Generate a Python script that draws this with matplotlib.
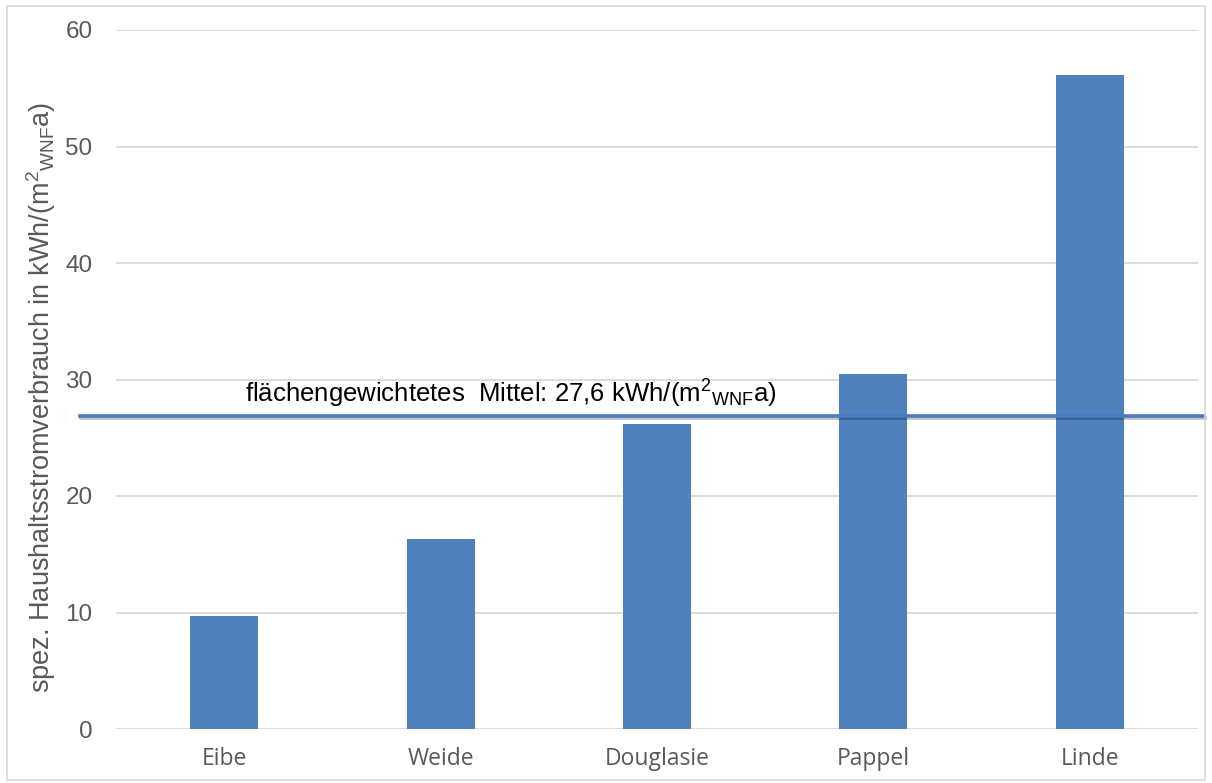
"""
Haushaltsstromverbrauch je Haus, mit flächengewichtetem Mittel
"""
import matplotlib
import matplotlib.pyplot as plt
import matplotlib.patheffects as pe
from matplotlib.patches import Rectangle

matplotlib.use("Agg")

# Data
houses = ["Eibe", "Weide", "Douglasie", "Pappel", "Linde"]
consumption = [9.7, 16.3, 26.2, 30.5, 56.1]
mean_line = [26.9]
mean_label = "flächengewichtetes  Mittel: 27,6 kWh/(m$^2$$_{\\mathregular{WNF}}$a)"
y_ticks = [0, 10, 20, 30, 40, 50, 60]

BAR_COLOR = "#4F81BD"
LINE_COLOR = "#4A7CC4"
GRID_COLOR = "#D9D9D9"
TEXT_GRAY = "#595959"


def main():
    plt.rcParams["mathtext.fontset"] = "custom"
    plt.rcParams["mathtext.rm"] = "Liberation Sans"
    plt.rcParams["mathtext.it"] = "Liberation Sans"
    plt.rcParams["mathtext.default"] = "regular"

    fig = plt.figure(figsize=(12.12, 7.83), dpi=100)
    ax = fig.add_axes([116 / 1212, 1 - 729 / 783, 1082 / 1212, 699 / 783])

    x = range(len(houses))
    ax.bar(x, consumption, width=0.315, color=BAR_COLOR, zorder=2)

    ax.set_xlim(-0.5, len(houses) - 0.5)
    ax.set_ylim(0, 60)
    ax.set_yticks(y_ticks)
    ax.set_yticklabels([str(t) for t in y_ticks], family="Liberation Sans",
                       fontsize=17.5, color=TEXT_GRAY)
    ax.set_xticks(list(x))
    ax.set_xticklabels(houses, family="Open Sans", fontsize=16.5, color=TEXT_GRAY)
    ax.tick_params(axis="both", length=0)
    ax.tick_params(axis="y", pad=17)
    ax.tick_params(axis="x", pad=13)

    ax.grid(axis="y", color=GRID_COLOR, linewidth=1.3, zorder=0)
    ax.set_axisbelow(True)
    for spine in ax.spines.values():
        spine.set_visible(False)

    ax.set_ylabel("spez. Haushaltsstromverbrauch in kWh/(m$^2$$_{\\mathregular{WNF}}$a)",
                  family="Liberation Sans", fontsize=19.5, color=TEXT_GRAY)
    ax.yaxis.set_label_coords(-0.054, 0.475)

    # mean line runs past the plot area on both sides
    ax.axhline(mean_line[0], xmin=(80 - 116) / 1082, xmax=(1204 - 116) / 1082,
               color=LINE_COLOR, linewidth=2.6, zorder=3, clip_on=False,
               path_effects=[pe.SimpleLineShadow(offset=(0.5, -1.5), alpha=0.25),
                             pe.Normal()])
    ax.text(0.119, mean_line[0] + 0.5, mean_label, family="Liberation Sans",
            fontsize=18.5, color="black", va="bottom", ha="left",
            transform=ax.get_yaxis_transform())

    # thin frame round the whole picture
    fig.patches.append(Rectangle((7 / 1212, 3 / 783), 1198 / 1212, 774 / 783,
                                 transform=fig.transFigure, fill=False,
                                 edgecolor="#D9D9D9", linewidth=1.2))

    fig.savefig("out.png", dpi=100)


if __name__ == "__main__":
    main()
